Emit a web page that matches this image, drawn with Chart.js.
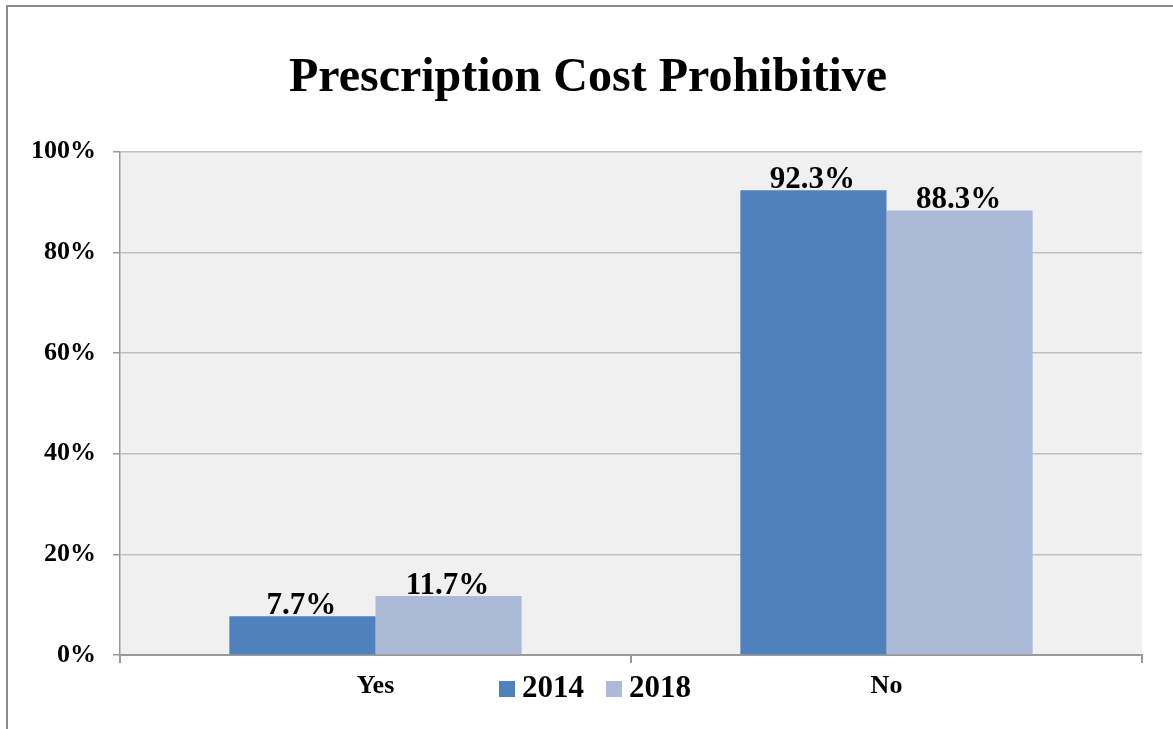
<!DOCTYPE html>
<html>
<head>
<meta charset="utf-8">
<script src="https://cdn.jsdelivr.net/npm/chart.js@4/dist/chart.umd.min.js"></script>
<style>
  html, body { margin: 0; padding: 0; background: #fff; overflow: hidden; }
  #frame { position: absolute; left: 6px; top: 5px; width: 1300px; height: 900px; border: 2px solid #8c8c8c; box-sizing: border-box; }
  #wrap { position: absolute; left: 0; top: 0; width: 1173px; height: 729px; }
</style>
</head>
<body>
<div id="frame"></div>
<div id="wrap"><canvas id="c" width="1173" height="729"></canvas></div>
<script>
const categories = ["Yes", "No"];
const seriesNames = ["2014", "2018"];
const values2014 = [7.7, 92.3];
const values2018 = [11.7, 88.3];
const yTicks = [0, 20, 40, 60, 80, 100];
const titleText = "Prescription Cost Prohibitive";

const SERIF = "'Times New Roman', 'Liberation Serif', serif";
const colors = ["#4F81BD", "#AABAD7"];

const plotBg = {
  id: 'plotBg',
  beforeDraw(chart) {
    const { ctx, chartArea: a } = chart;
    ctx.save();
    ctx.fillStyle = '#F0F0F0';
    ctx.fillRect(a.left, a.top, a.right - a.left, a.bottom - a.top);
    ctx.restore();
  }
};

const valueLabels = {
  id: 'valueLabels',
  afterDatasetsDraw(chart) {
    const { ctx } = chart;
    ctx.save();
    ctx.font = `bold 31px ${SERIF}`;
    ctx.fillStyle = '#000';
    ctx.textAlign = 'center';
    ctx.textBaseline = 'alphabetic';
    chart.data.datasets.forEach((ds, i) => {
      const meta = chart.getDatasetMeta(i);
      meta.data.forEach((bar, j) => {
        ctx.fillText(ds.data[j].toFixed(1) + '%', bar.x - 1, bar.y - 2);
      });
    });
    ctx.restore();
  }
};

const customLegend = {
  id: 'customLegend',
  afterDraw(chart) {
    const { ctx } = chart;
    ctx.save();
    ctx.font = `bold 31px ${SERIF}`;
    ctx.textBaseline = 'middle';
    ctx.textAlign = 'left';
    const box = 16, gapBoxText = 7, gapItems = 22;
    const items = chart.data.datasets.map(ds => ({ label: ds.label, color: ds.backgroundColor, w: ctx.measureText(ds.label).width }));
    let total = 0;
    items.forEach((it, i) => { total += box + gapBoxText + it.w + (i < items.length - 1 ? gapItems : 0); });
    let x = 595 - total / 2;
    const yc = 689;
    items.forEach(it => {
      ctx.fillStyle = it.color;
      ctx.fillRect(x, yc - box / 2, box, box);
      x += box + gapBoxText;
      ctx.fillStyle = '#000';
      ctx.fillText(it.label, x, yc);
      x += it.w + gapItems;
    });
    ctx.restore();
  }
};

new Chart(document.getElementById('c'), {
  type: 'bar',
  data: {
    labels: categories,
    datasets: [
      { label: seriesNames[0], data: values2014, backgroundColor: colors[0], borderWidth: 0, categoryPercentage: 0.572, barPercentage: 1.0 },
      { label: seriesNames[1], data: values2018, backgroundColor: colors[1], borderWidth: 0, categoryPercentage: 0.572, barPercentage: 1.0 }
    ]
  },
  options: {
    responsive: false,
    animation: false,
    layout: { padding: { left: 17, right: 14, top: 0, bottom: 0 } },
    plugins: {
      legend: { display: false },
      tooltip: { enabled: false },
      title: {
        display: true,
        text: titleText,
        color: '#000',
        font: { family: SERIF, size: 48, weight: 'bold', lineHeight: 1.2 },
        padding: { top: 50, bottom: 44 }
      }
    },
    scales: {
      x: {
        offset: true,
        grid: { offset: true, drawOnChartArea: false, drawTicks: true, tickLength: 8, tickColor: '#999', lineWidth: 2 },
        border: { color: '#999', width: 2 },
        ticks: { color: '#000', padding: 8, font: { family: SERIF, size: 26, weight: 'bold' } },
        afterFit(scale) { scale.height = 74; }
      },
      y: {
        min: 0,
        max: 100,
        afterBuildTicks(scale) { scale.ticks = yTicks.map(v => ({ value: v })); },
        grid: { color: '#C0C0C0', lineWidth: 1.5, tickLength: 7, tickColor: '#999' },
        border: { color: '#999', width: 1.5 },
        ticks: { color: '#000', padding: 17, font: { family: SERIF, size: 26, weight: 'bold' }, callback: v => v + '%' },
        afterFit(scale) { scale.width = 103; }
      },
      yPad: {
        type: 'linear',
        position: 'right',
        display: true,
        grid: { display: false, drawTicks: false },
        border: { display: false },
        ticks: { display: false },
        afterFit(scale) { scale.width = 17; }
      }
    }
  },
  plugins: [plotBg, valueLabels, customLegend]
});
</script>
</body>
</html>
